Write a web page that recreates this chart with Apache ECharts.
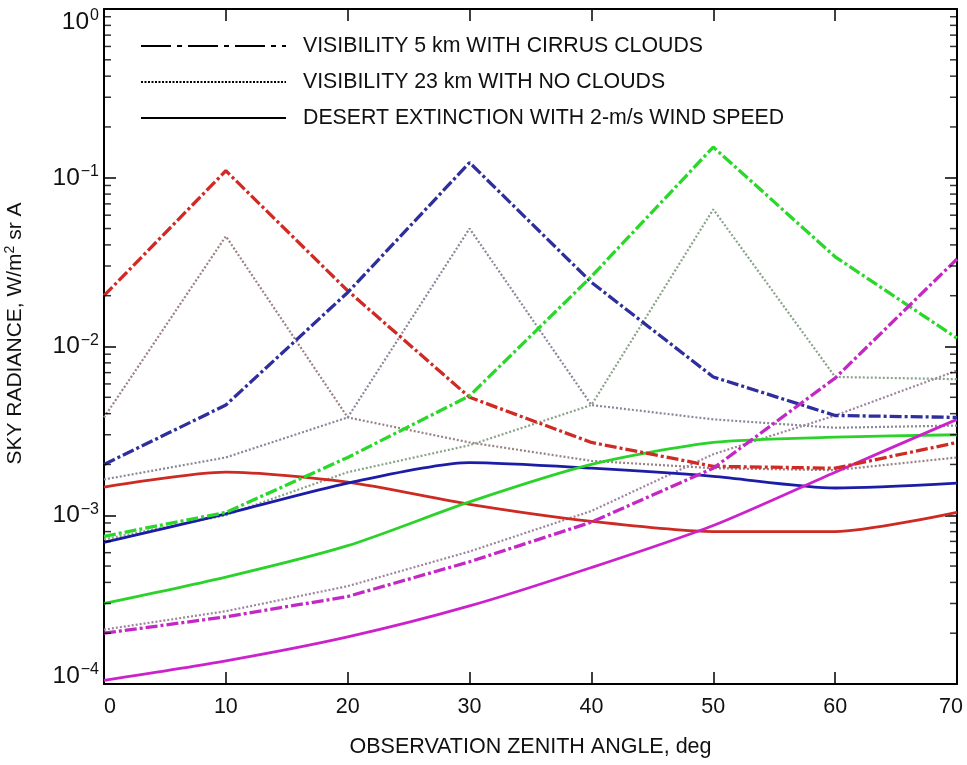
<!DOCTYPE html>
<html>
<head>
<meta charset="utf-8">
<script src="https://cdn.jsdelivr.net/npm/echarts@6/dist/echarts.min.js"></script>
<style>
html,body{margin:0;padding:0;background:#fff;}
#c{width:967px;height:765px;}
</style>
</head>
<body>
<div id="c"></div>
<script>
// Observation zenith angles (deg)
const angles = [0, 10, 20, 30, 40, 50, 60, 70];

// Red family (peak at 10 deg)
const redCirrus = [0.0200, 0.110, 0.0214, 0.0050, 0.0027, 0.00195, 0.0019, 0.0027];
const redClear  = [0.0038, 0.045, 0.0038, 0.0027, 0.0021, 0.0019, 0.00185, 0.0022];
const redDesert = [0.00147, 0.0018, 0.00157, 0.00116, 0.00092, 0.00080, 0.00080, 0.00104];

// Blue family (peak at 30 deg)
const blueCirrus = [0.0020, 0.0045, 0.0209, 0.123, 0.024, 0.0066, 0.0039, 0.0038];
const blueClear  = [0.00163, 0.0022, 0.0038, 0.050, 0.0045, 0.0037, 0.0033, 0.0034];
const blueDesert = [0.00069, 0.00102, 0.00155, 0.00205, 0.0019, 0.0017, 0.00145, 0.00155];

// Green family (peak at 50 deg)
const greenCirrus = [0.00075, 0.00104, 0.0022, 0.0051, 0.026, 0.152, 0.034, 0.0112];
const greenClear  = [0.00072, 0.00100, 0.0018, 0.0026, 0.0045, 0.065, 0.0066, 0.0064];
const greenDesert = [0.00030, 0.00043, 0.00066, 0.0012, 0.0020, 0.0027, 0.0029, 0.0030];

// Magenta family (rising toward 70 deg)
const magCirrus = [0.00020, 0.00025, 0.00033, 0.00053, 0.00091, 0.0019, 0.0065, 0.033];
const magClear  = [0.00021, 0.00027, 0.00038, 0.00061, 0.00106, 0.0023, 0.0039, 0.0072];
const magDesert = [0.000105, 0.000137, 0.00019, 0.00029, 0.00049, 0.00087, 0.0018, 0.0037];

// Legend labels
const legendNames = [
  'VISIBILITY 5 km WITH CIRRUS CLOUDS',
  'VISIBILITY 23 km WITH NO CLOUDS',
  'DESERT EXTINCTION WITH 2-m/s WIND SPEED'
];

// Axis ticks
const xTicks = [0, 10, 20, 30, 40, 50, 60, 70];
const decades = [1e-4, 1e-3, 1e-2, 1e-1, 1];
const minorMultipliers = [2, 3, 4, 5, 6, 7, 8, 9];

const FONT = '"Liberation Sans", Arial, Helvetica, sans-serif';
const DASHDOT = [12, 3, 3, 3];
const DOTTED = [2, 2];

function pairs(vals) { return angles.map((a, i) => [a, vals[i]]); }

const minorLeft = [], minorRight = [];
for (let d = 0; d < decades.length - 1; d++) {
  for (const m of minorMultipliers) {
    minorLeft.push([xTicks[0], decades[d] * m]);
    minorRight.push([xTicks[xTicks.length - 1], decades[d] * m]);
  }
}

function lineSeries(name, vals, color, kind) {
  const s = {
    type: 'line',
    name: name,
    data: pairs(vals),
    symbol: 'none',
    silent: true,
    animation: false,
    xAxisIndex: 0, yAxisIndex: 0,
    lineStyle: { color: color, width: 2.8 }
  };
  if (kind === 'dashdot') { s.lineStyle.type = DASHDOT; s.lineStyle.width = 3.3; s.z = 4; }
  else if (kind === 'dotted') { s.lineStyle.type = DOTTED; s.lineStyle.width = 2.2; s.z = 2; }
  else { s.smooth = 0.25; s.z = 3; }
  return s;
}

function minorTickSeries(data, offset) {
  return {
    type: 'scatter', data: data, symbol: 'rect', symbolSize: [7, 1.5],
    symbolOffset: [offset, 0], itemStyle: { color: '#000' },
    silent: true, clip: false, z: 10, animation: false
  };
}

const series = [
  lineSeries('rc', redClear, '#9a8282', 'dotted'),
  lineSeries('bc', blueClear, '#88889a', 'dotted'),
  lineSeries('gc', greenClear, '#8aa28a', 'dotted'),
  lineSeries('mc', magClear, '#9e869e', 'dotted'),
  lineSeries('rd', redDesert, '#cc2a22', 'solid'),
  lineSeries('bd', blueDesert, '#1c1ca6', 'solid'),
  lineSeries('gd', greenDesert, '#2ad22a', 'solid'),
  lineSeries('md', magDesert, '#cc22cc', 'solid'),
  lineSeries('rcc', redCirrus, '#d02a24', 'dashdot'),
  lineSeries('bcc', blueCirrus, '#2e2e9c', 'dashdot'),
  lineSeries('gcc', greenCirrus, '#2ad82a', 'dashdot'),
  lineSeries('mcc', magCirrus, '#c428c4', 'dashdot'),
  // legend entries
  { type: 'line', name: legendNames[0], data: [], symbol: 'none', lineStyle: { color: '#000', width: 3.5, type: [30, 6, 5, 6] }, itemStyle: { color: '#000' } },
  { type: 'line', name: legendNames[1], data: [], symbol: 'none', lineStyle: { color: '#000', width: 3, type: [2, 1.5] }, itemStyle: { color: '#000' } },
  { type: 'line', name: legendNames[2], data: [], symbol: 'none', lineStyle: { color: '#000', width: 3.5 }, itemStyle: { color: '#000' } },
  // minor log ticks on left and right frame
  minorTickSeries(minorLeft, 3.5),
  minorTickSeries(minorRight, -3.5)
];

function yLabel(v) {
  const e = Math.round(Math.log10(v));
  const k = e === 0 ? 'T' : (e === -4 ? 'B' : '');
  return '{b' + k + '|10}{s' + k + '|' + (e === 0 ? '0' : '\u2212' + (-e)) + '}';
}

function xLabel(v) {
  if (v === xTicks[0]) return '{l|' + v + '}';
  if (v === xTicks[xTicks.length - 1]) return '{r|' + v + '}';
  return '{n|' + v + '}';
}

const BASE = { fontSize: 24.5, color: '#111', fontFamily: FONT };
const SUP = { fontSize: 16, color: '#111', fontFamily: FONT };
const XL = { fontSize: 21.5, color: '#111', fontFamily: FONT };

const chart = echarts.init(document.getElementById('c'), null, { renderer: 'canvas' });
chart.setOption({
  backgroundColor: '#fff',
  animation: false,
  textStyle: { fontFamily: FONT },
  grid: { left: 104, right: 10, top: 9, bottom: 81, containLabel: false, outerBoundsMode: 'none' },
  legend: {
    data: legendNames,
    orient: 'vertical',
    left: 135,
    top: 30,
    itemWidth: 145,
    itemHeight: 22,
    itemGap: 14,
    selectedMode: false,
    itemStyle: { opacity: 0 },
    textStyle: { fontSize: 21.3, lineHeight: 22, color: '#111', fontFamily: FONT, padding: [0, 0, 0, 12] }
  },
  xAxis: [
    {
      type: 'value', min: 0, max: 70, interval: 10, position: 'bottom',
      name: 'OBSERVATION ZENITH ANGLE, deg', nameLocation: 'middle', nameGap: 52,
      nameTextStyle: { fontSize: 21.5, color: '#111', fontFamily: FONT },
      axisLine: { show: true, onZero: false, lineStyle: { color: '#000', width: 2 } },
      axisTick: { show: true, inside: true, length: 12, lineStyle: { color: '#000', width: 1.5 } },
      axisLabel: {
        margin: 12, formatter: xLabel,
        rich: {
          n: XL,
          l: Object.assign({}, XL, { padding: [0, 0, 0, 12] }),
          r: Object.assign({}, XL, { padding: [0, 12, 0, 0] })
        }
      },
      splitLine: { show: false }
    },
    {
      type: 'value', min: 0, max: 70, interval: 10, position: 'top',
      axisLine: { show: true, onZero: false, lineStyle: { color: '#000', width: 2 } },
      axisTick: { show: true, inside: true, length: 12, lineStyle: { color: '#000', width: 1.5 } },
      axisLabel: { show: false },
      splitLine: { show: false }
    }
  ],
  yAxis: [
    {
      type: 'log', logBase: 10, min: 1e-4, max: 1, position: 'left',
      name: 'SKY RADIANCE, W/m{s|2} sr A', nameLocation: 'middle', nameGap: 76,
      nameTextStyle: { fontSize: 21, color: '#111', fontFamily: FONT, padding: [0, 0, 0, 26], rich: { s: { fontSize: 14, padding: [0, 0, 11, 0], fontFamily: FONT, color: '#111' } } },
      axisLine: { show: true, onZero: false, lineStyle: { color: '#000', width: 2 } },
      axisTick: { show: true, inside: true, length: 12, lineStyle: { color: '#000', width: 1.5 } },
      axisLabel: {
        margin: 5, formatter: yLabel,
        rich: {
          b: BASE,
          s: Object.assign({}, SUP, { padding: [0, 0, 12, 1] }),
          bT: Object.assign({}, BASE, { padding: [26, 0, 0, 0] }),
          sT: Object.assign({}, SUP, { padding: [26, 0, 12, 1] }),
          bB: Object.assign({}, BASE, { padding: [0, 0, 16, 0] }),
          sB: Object.assign({}, SUP, { padding: [0, 0, 28, 1] })
        }
      },
      splitLine: { show: false }
    },
    {
      type: 'log', logBase: 10, min: 1e-4, max: 1, position: 'right',
      axisLine: { show: true, onZero: false, lineStyle: { color: '#000', width: 2 } },
      axisTick: { show: true, inside: true, length: 12, lineStyle: { color: '#000', width: 1.5 } },
      axisLabel: { show: false },
      splitLine: { show: false }
    }
  ],
  series: series
});
</script>
</body>
</html>
